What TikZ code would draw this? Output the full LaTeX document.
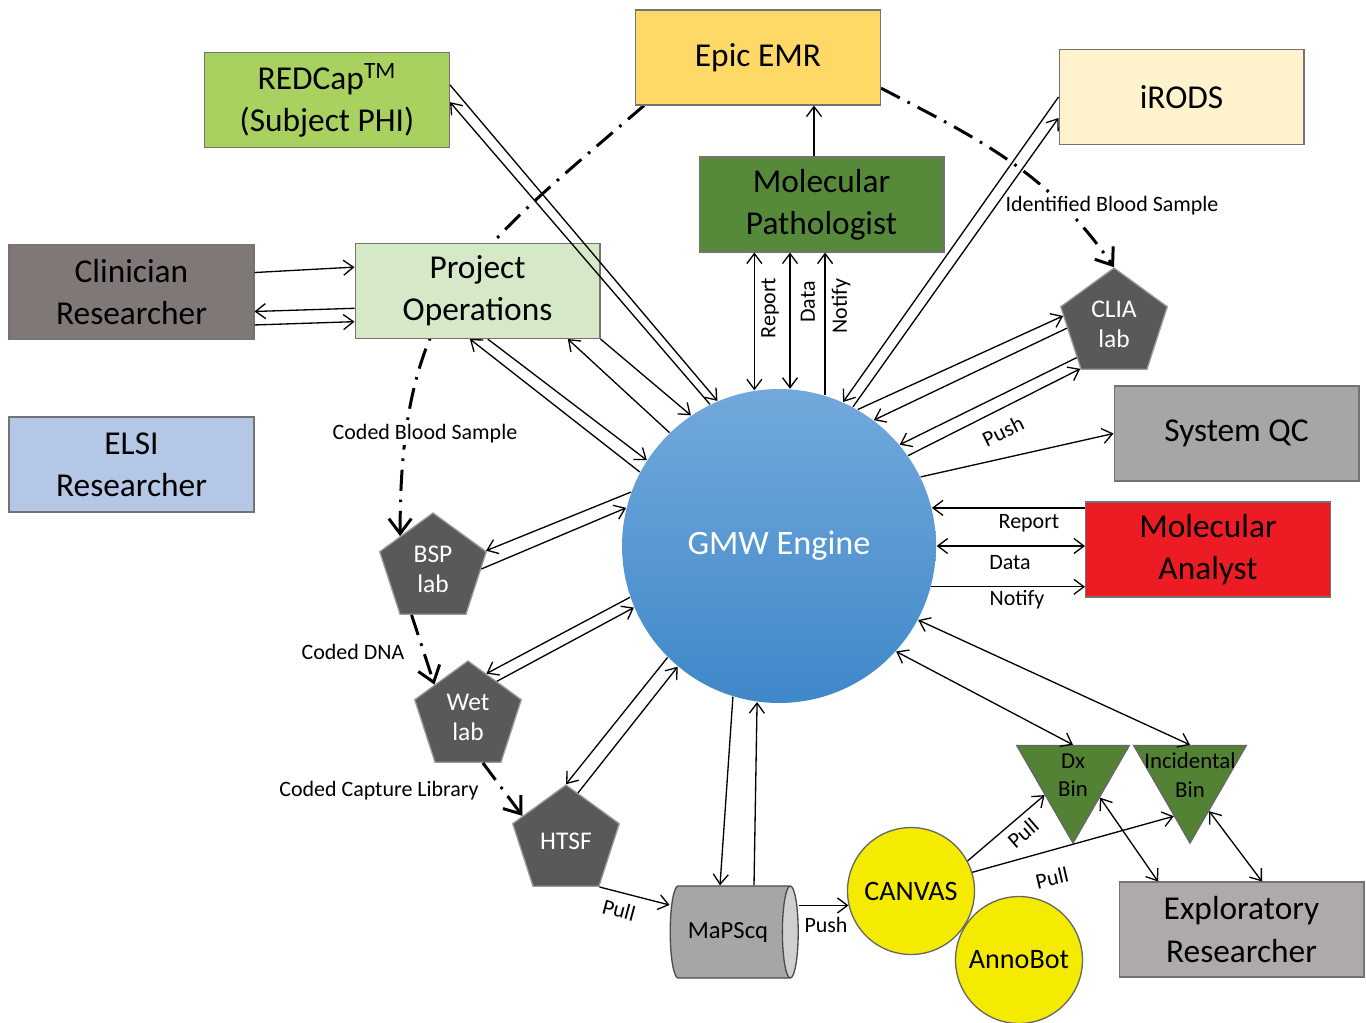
\documentclass[tikz,border=0pt]{standalone}
\usepackage{fontspec}
\setmainfont{Carlito}
\usetikzlibrary{shapes.geometric}
\usetikzlibrary{arrows.meta}
\usetikzlibrary{backgrounds}
\usepackage{xcolor}

\definecolor{epicyellow}{HTML}{FFD966}
\definecolor{redcapgreen}{HTML}{A9D15F}
\definecolor{irodscream}{HTML}{FFF2CC}
\definecolor{pathgreen}{HTML}{568A3A}
\definecolor{clingray}{HTML}{7F7877}
\definecolor{opsgreen}{HTML}{D5E8C8}
\definecolor{elsiblue}{HTML}{B4C7E7}
\definecolor{qcgray}{HTML}{A6A6A6}
\definecolor{analystred}{HTML}{ED1C24}
\definecolor{explgray}{HTML}{AEAAAA}
\definecolor{labgray}{HTML}{595959}
\definecolor{bingreen}{HTML}{548235}
\definecolor{blobyellow}{HTML}{F5EB00}
\definecolor{seqgray}{HTML}{A6A6A6}
\definecolor{seqend}{HTML}{D0CECE}
\definecolor{enginetop}{HTML}{72A9DC}
\definecolor{enginebottom}{HTML}{3F88C9}

\tikzset{
  box/.style={draw=black!55, line width=0.6pt, minimum width=4.9cm, minimum height=1.9cm, align=center, font=\fontsize{19}{24}\selectfont},
  lab/.style={regular polygon, regular polygon sides=5, minimum size=2.24cm, inner sep=0pt, fill=labgray, draw=black!40, text=white, align=center, font=\fontsize{14.5}{17}\selectfont},
  bin/.style={regular polygon, regular polygon sides=3, shape border rotate=180, minimum size=2.6cm, inner sep=0pt, fill=bingreen, draw=black!60},
  bintext/.style={align=center, inner sep=0pt, font=\fontsize{13}{16}\selectfont},
  blob/.style={circle, minimum size=2.54cm, inner sep=0pt, fill=blobyellow, draw=black!60, font=\fontsize{16}{19}\selectfont},
  coded/.style={line width=1.7pt, dash pattern=on 12pt off 5pt on 1.5pt off 5pt, -{Straight Barb[length=3mm,width=4.5mm]}},
  tag/.style={inner sep=1pt, font=\fontsize{12.5}{15}\selectfont},
  >={Straight Barb[length=2mm,width=3mm]}
}

\begin{document}
\begin{tikzpicture}[x=0.02cm, y=-0.02cm, line width=0.75pt]
\useasboundingbox (0,0) rectangle (1366,1022);

% boxes
\node[box, fill=epicyellow] (epic) at (758,57.5) {Epic EMR};
\node[box, fill=redcapgreen] (redcap) at (327,100) {REDCap\textsuperscript{TM}\\(Subject PHI)};
\node[box, fill=irodscream] (irods) at (1181.5,97) {iRODS};
\node[box, fill=pathgreen] (molpath) at (821.5,204.5) {Molecular\\Pathologist};
\node[box, fill=clingray] (clinres) at (131.5,292) {Clinician\\Researcher};
\node[box, fill=opsgreen] (projops) at (477.5,291) {Project\\Operations};
\node[box, fill=elsiblue] (elsi) at (131.5,464.5) {ELSI\\Researcher};
\node[box, fill=qcgray] (sysqc) at (1236.5,433.5) {System QC};
\node[box, fill=analystred] (molan) at (1208,549.5) {Molecular\\Analyst};
\node[box, fill=explgray] (explres) at (1241.5,929.5) {Exploratory\\Researcher};

% engine
\node[circle, minimum size=6.28cm, top color=enginetop, bottom color=enginebottom, text=white, font=\fontsize{19.5}{24}\selectfont] (gmw) at (779,546) {GMW Engine};

% labs and bins
\node[lab] (clia) at (1114,324) {CLIA\\lab};
\node[lab] (bsp) at (433,569) {BSP\\lab};
\node[lab] (wet) at (468,717) {Wet\\lab};
\node[lab] (htsf) at (566,841) {HTSF};
\node[bin, label={[bintext, yshift=0.06cm]center:Dx\\Bin}] (dx) at (1073,778) {};
\node[bin, label={[bintext, yshift=0.06cm]center:Incidental\\Bin}] (incid) at (1190,778) {};

% tools
\node[cylinder, minimum height=2.56cm, minimum width=1.84cm, shape aspect=0.5, cylinder uses custom fill, cylinder body fill=seqgray, cylinder end fill=seqend, draw=black!70, font=\fontsize{14}{17}\selectfont] (mapseq) at (728,932) {MaPScq};
\node[blob] (canvas) at (911,891) {CANVAS};
\node[blob] (annobot) at (1019,960) {AnnoBot};

% sample labels
\node[tag, fill=white] (tagblood) at (425,434) {Coded Blood Sample};
\node[tag] (tagdna) at (353,652) {Coded DNA};
\node[tag] (taglib) at (379,791) {Coded Capture Library};
\node[tag, fill=white] (tagident) at (1112,206) {Identified Blood Sample};

% sample flow
\begin{scope}[on background layer]
\draw[coded] ([shift={(9,0)}]epic.south west) .. controls (471,255) and (400,300) .. (bsp.135);
\draw[coded] (epic.-14) .. controls (983,141) and (1048,173) .. (clia.north);
\end{scope}
\draw[coded] (bsp.245) -- (wet.136);
\draw[coded] (wet.288) -- (htsf.150);

% pathologist
\coordinate (mptop) at ([shift={(-7.5,0)}]molpath.north);
\draw[->] (mptop) -- (mptop |- epic.south);
\draw[<->] (gmw.99.5) -- (gmw.99.5 |- molpath.south);
\draw[<->] (gmw.86.3) -- (gmw.86.3 |- molpath.south);
\draw[->] (gmw.73.7) -- (gmw.73.7 |- molpath.south);
\node[tag, rotate=90] (tagreport) at (770,308) {Report};
\node[tag, rotate=90] (tagdata) at (808,302) {Data};
\node[tag, rotate=90] (tagnotify) at (841,306) {Notify};

% redcap and project operations
\draw[->] (redcap.7.9) -- (gmw.113.3);
\draw[->] (gmw.116.4) -- (redcap.-1.4);
\draw[->] (gmw.152.6) -- (projops.261.1);
\draw[->] (projops.282.3) -- (gmw.147.9);
\draw[->] (gmw.134.5) -- (projops.332.1);
\draw[->] (projops.south east) -- (gmw.124.3);
\draw[->] (clinres.9.95) -- (projops.169.4);
\draw[->] (projops.188.4) -- (clinres.-9.04);
\draw[->] (clinres.-15.3) -- (projops.194.6);

% labs
\draw[->] (gmw.160.5) -- (bsp.19);
\draw[->] (bsp.0) -- (gmw.166.7);
\draw[->] (gmw.199.1) -- (wet.67);
\draw[->] (wet.51) -- (gmw.203.6);
\draw[->] (gmw.225) -- (htsf.north);
\draw[->] (htsf.76) -- (gmw.230);
\draw[->] (gmw.60.7) -- (clia.171);
\draw[->] (clia.185) -- (gmw.53.9);
\draw[->] (clia.222.6) -- (gmw.40.4);
\draw[->] (gmw.35.8) -- (clia.233.5);
\node[tag, rotate=26] (tagpush) at (1003,431) {Push};

% irods and qc
\draw[->] (irods.west) -- (gmw.66.6);
\draw[->] (gmw.62) -- ([shift={(0,21)}]irods.west);
\draw[->] (gmw.26.1) -- (sysqc.west);

% analyst
\draw[->] (gmw.14.8 -| molan.west) -- (gmw.14.8);
\draw[<->] (gmw.0) -- (gmw.0 -| molan.west);
\draw[->] (gmw.-15.5) -- (gmw.-15.5 -| molan.west);
\node[tag] (tagreport2) at (1029,523) {Report};
\node[tag] (tagdata2) at (1010,563) {Data};
\node[tag] (tagnotify2) at (1017,600) {Notify};

% sequencing and bins
\draw[->] (htsf.corner 4) -- ([shift={(0,-27)}]mapseq.west);
\draw[->] (gmw.253.8) -- ([shift={(-8,0)}]mapseq.north);
\draw[->] ([shift={(26,0)}]mapseq.north) -- (gmw.262.7);
\draw[->] (canvas.193 -| mapseq.east) -- (canvas.193);
\draw[->] (canvas.28.5) -- (dx.211.5);
\draw[->] (canvas.17) -- (incid.247.8);
\draw[<->] (gmw.318) -- (dx.north);
\draw[<->] (gmw.332) -- (incid.north);
\draw[<->] (dx.324) -- ([shift={(-83.5,0)}]explres.north);
\draw[<->] (incid.300.5) -- ([shift={(20.5,0)}]explres.north);
\node[tag, rotate=-15] (tagpull) at (619,910) {Pull};
\node[tag] (tagpush2) at (826,925) {Push};
\node[tag, rotate=41] (tagpull2) at (1023,833) {Pull};
\node[tag, rotate=13] (tagpull3) at (1052,878) {Pull};

\end{tikzpicture}
\end{document}
